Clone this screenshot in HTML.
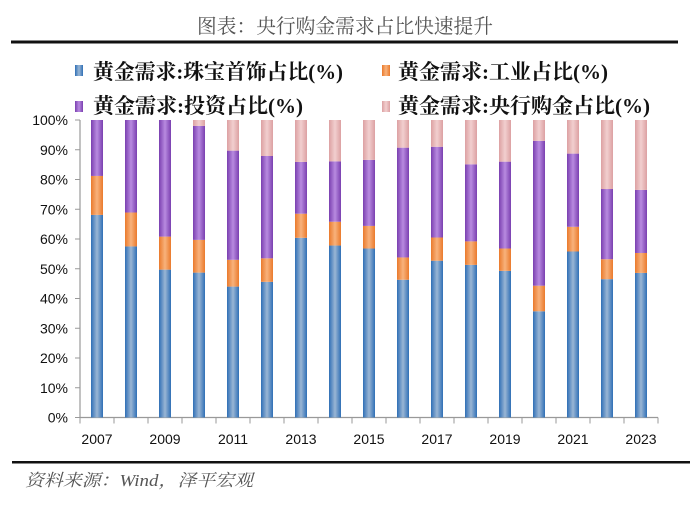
<!DOCTYPE html>
<html><head><meta charset="utf-8">
<style>
body{margin:0;background:#fff;}
svg text{font-family:"Liberation Serif","Noto Serif CJK SC",serif;}
</style></head>
<body>
<svg id="chart" width="700" height="503" xmlns="http://www.w3.org/2000/svg">
<defs>
<linearGradient id="gB" x1="0" x2="1"><stop offset="0" stop-color="#2f6fb6"/><stop offset="0.5" stop-color="#9ab6d4"/><stop offset="1" stop-color="#2f6fb6"/></linearGradient>
<linearGradient id="gO" x1="0" x2="1"><stop offset="0" stop-color="#ea7a2c"/><stop offset="0.5" stop-color="#f8b27c"/><stop offset="1" stop-color="#ea7a2c"/></linearGradient>
<linearGradient id="gP" x1="0" x2="1"><stop offset="0" stop-color="#7a3fb0"/><stop offset="0.5" stop-color="#b88ae0"/><stop offset="1" stop-color="#7a3fb0"/></linearGradient>
<linearGradient id="gK" x1="0" x2="1"><stop offset="0" stop-color="#dca0a2"/><stop offset="0.5" stop-color="#f2cfcf"/><stop offset="1" stop-color="#dca0a2"/></linearGradient>
</defs>
<text x="197" y="33" textLength="296" lengthAdjust="spacingAndGlyphs" font-size="20" fill="#555" style="font-family:'Noto Serif CJK SC',serif">图表：央行购金需求占比快速提升</text>
<rect x="11" y="40.5" width="318" height="3" fill="#111"/>
<rect x="328" y="40.5" width="2" height="3" fill="#111"/>
<rect x="329" y="40.5" width="349" height="3" fill="#111"/>
<g id="legend" font-size="21" font-weight="bold" fill="#111">
<g><rect x="75" y="65" width="8" height="11" fill="url(#gB)"/><text x="93" y="79" textLength="250" lengthAdjust="spacingAndGlyphs">黄金需求:珠宝首饰占比(%)</text></g>
<g><rect x="382" y="65" width="8" height="11" fill="url(#gO)"/><text x="398" y="79" textLength="210" lengthAdjust="spacingAndGlyphs">黄金需求:工业占比(%)</text></g>
<g><rect x="75" y="101" width="8" height="11" fill="url(#gP)"/><text x="93" y="113" textLength="210" lengthAdjust="spacingAndGlyphs">黄金需求:投资占比(%)</text></g>
<g><rect x="382" y="101" width="8" height="11" fill="url(#gK)"/><text x="398" y="113" textLength="252" lengthAdjust="spacingAndGlyphs">黄金需求:央行购金占比(%)</text></g>
</g>
<g id="axes"></g>
<g id="bars"></g>
<rect x="12" y="461" width="678" height="2.5" fill="#111"/>
<text x="25" y="486" font-size="17" font-style="italic" fill="#555" textLength="228" lengthAdjust="spacingAndGlyphs">资料来源：Wind，泽平宏观</text>
</svg>
<script>
const years=[2007,2008,2009,2010,2011,2012,2013,2014,2015,2016,2017,2018,2019,2020,2021,2022,2023];
const jewelry=[68.1,57.5,49.7,48.7,44,45.6,60.4,57.8,56.8,46.3,52.7,51.3,49.3,35.7,55.8,46.5,48.6];
const industry=[13.1,11.4,11.1,11,9,7.9,8.1,8,7.6,7.5,7.8,7.9,7.5,8.6,8.3,6.7,6.7];
const investment=[18.8,31.1,39.2,38.3,36.7,34.4,17.4,20.3,22.2,36.9,30.5,25.9,29.2,48.7,24.6,23.6,21.2];
const centralBank=[0,0,0,2,10.3,12.1,14.1,13.9,13.4,9.3,9,14.9,14,7,11.3,23.2,23.5];
const yTicks=[0,10,20,30,40,50,60,70,80,90,100];
const NS="http://www.w3.org/2000/svg";
const x0=80,x1=658,yBot=417.5,yTop=120;
const step=(x1-x0)/years.length;
const xC=i=>x0+step*(i+0.5);
const yS=v=>yBot-(yBot-yTop)*v/100;
function mk(t,a,p){const e=document.createElementNS(NS,t);for(const k in a)e.setAttribute(k,a[k]);p.appendChild(e);return e;}
const ax=document.getElementById('axes');
const yl=mk('line',{x1:x0,x2:x0,y1:yTop,y2:yBot,stroke:'#999','stroke-width':1.2},ax);


const xl=mk('line',{x1:x0,x2:x1,y1:yBot,y2:yBot,stroke:'#999','stroke-width':1.2},ax);


yTicks.forEach(v=>{
  mk('line',{x1:x0-5,x2:x0,y1:yS(v),y2:yS(v),stroke:'#999'},ax);
  const t=mk('text',{x:x0-12,y:yS(v)+5,'text-anchor':'end','font-size':14,fill:'#111',style:"font-family:'Liberation Sans',sans-serif"},ax);
  t.textContent=v+'%';
  
  
});
for(let i=0;i<=years.length;i++){mk('line',{x1:x0+step*i,x2:x0+step*i,y1:yBot,y2:yBot+6,stroke:'#999'},ax);}
years.forEach((y,i)=>{
  if(i%2===0){
    const t=mk('text',{x:xC(i),y:444,'text-anchor':'middle','font-size':14,fill:'#111',style:"font-family:'Liberation Sans',sans-serif"},ax);
    t.textContent=y;
    
    
  }
});
const bg=document.getElementById('bars');
const series=[[jewelry,'url(#gB)','jewelry'],[industry,'url(#gO)','industry'],[investment,'url(#gP)','investment'],[centralBank,'url(#gK)','central-bank']];
years.forEach((y,i)=>{
  let cum=0;
  series.forEach(([arr,fill,name])=>{
    const v=arr[i];
    const r=mk('rect',{x:xC(i)-6,y:yS(Math.min(100,cum+v)),width:12,height:Math.max(0,yS(cum)-yS(Math.min(100,cum+v))),fill:fill},bg);
    
    
    cum+=v;
  });
});
</script>
</body></html>
